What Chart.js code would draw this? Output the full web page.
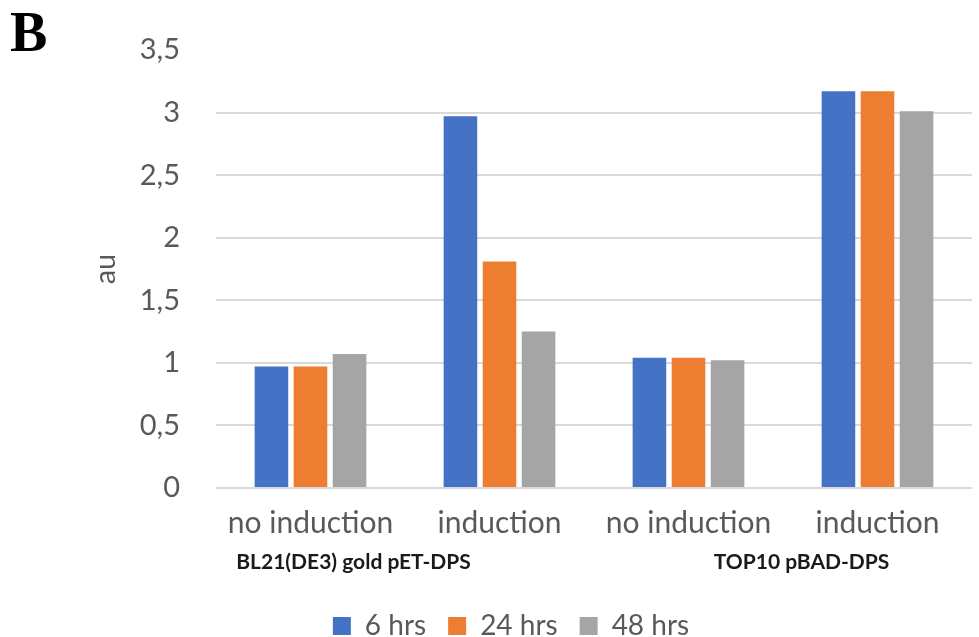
<!DOCTYPE html>
<html lang="en">
<head>
    <meta charset="UTF-8">
    <title>DPS expression</title>
    <script src="https://cdn.jsdelivr.net/npm/chart.js"></script>
    <style>
        body { margin: 0; background: #fff; }
        #wrap { width: 979px; height: 637px; }
    </style>
</head>
<body>
    <div id="wrap"><canvas id="chart" width="979" height="637"></canvas></div>

    <script>
        // data
        var categories = ['no induction', 'induction', 'no induction', 'induction'];
        var groupLabels = ['BL21(DE3) gold pET-DPS', 'TOP10 pBAD-DPS'];
        var seriesNames = ['6 hrs', '24 hrs', '48 hrs'];
        var hrs6 = [0.97, 2.97, 1.04, 3.17];
        var hrs24 = [0.97, 1.81, 1.04, 3.17];
        var hrs48 = [1.07, 1.25, 1.02, 3.01];
        var yTicks = [0, 0.5, 1, 1.5, 2, 2.5, 3, 3.5];

        var colors = ['#4472C4', '#ED7D31', '#A5A5A5'];
        var FONT = 'Lato, "Open Sans", sans-serif';

        // legend sits a bit right of the page centre in the original
        var legendShift = {
            id: 'legendShift',
            afterLayout: function (chart) {
                chart.legend.left += 25;
                chart.legend.right += 25;
            }
        };

        // extra texts: panel letter, y title, strain labels
        var extraText = {
            id: 'extraText',
            afterDraw: function (chart) {
                var c = chart.ctx;
                var xs = chart.scales.x;
                var area = chart.chartArea;
                c.save();
                c.fillStyle = '#000';
                c.font = 'bold 56px "Liberation Serif", serif';
                c.textAlign = 'left';
                c.textBaseline = 'alphabetic';
                c.fillText('B', 10, 51);

                c.fillStyle = '#1a1a1a';
                c.font = 'bold 21px ' + FONT;
                c.textAlign = 'center';
                c.fillText(groupLabels[0], xs.getPixelForValue(0) + 43, 569);
                c.fillText(groupLabels[1], xs.getPixelForValue(2) + 113, 569);

                c.fillStyle = '#595959';
                c.font = '29px ' + FONT;
                c.translate(106, (area.top + area.bottom) / 2);
                c.rotate(-Math.PI / 2);
                c.textBaseline = 'middle';
                c.fillText('au', 0, 0);
                c.restore();
            }
        };

        var ctx = document.getElementById('chart').getContext('2d');
        var chart = new Chart(ctx, {
            type: 'bar',
            data: {
                labels: categories,
                datasets: [hrs6, hrs24, hrs48].map(function (d, i) {
                    return {
                        label: seriesNames[i],
                        data: d,
                        backgroundColor: colors[i],
                        categoryPercentage: 0.62,
                        barPercentage: 0.86
                    };
                })
            },
            options: {
                responsive: false,
                animation: false,
                layout: { padding: { top: 50, right: 7, left: 0, bottom: -13 } },
                plugins: {
                    tooltip: { enabled: false },
                    legend: {
                        position: 'bottom',
                        labels: {
                            font: { family: FONT, size: 28 },
                            color: '#595959',
                            boxWidth: 18,
                            boxHeight: 18,
                            padding: 22
                        }
                    }
                },
                scales: {
                    x: {
                        grid: { display: false },
                        border: { display: false },
                        ticks: {
                            font: { family: FONT, size: 30 },
                            color: '#595959',
                            padding: 9,
                            maxRotation: 0
                        },
                        afterFit: function (s) { s.height = 102; }
                    },
                    y: {
                        min: 0,
                        max: 3.5,
                        afterBuildTicks: function (s) {
                            s.ticks = yTicks.map(function (v) { return { value: v }; });
                        },
                        grid: {
                            color: function (c) {
                                return c.tick && c.tick.value === 3.5 ? 'rgba(0,0,0,0)' : '#d9d9d9';
                            },
                            lineWidth: 2,
                            drawTicks: false
                        },
                        border: { display: false },
                        ticks: {
                            font: { family: FONT, size: 29 },
                            color: '#595959',
                            padding: 36,
                            callback: function (v) { return String(v).replace('.', ','); }
                        },
                        afterFit: function (s) {
                            s.width = 216;
                            s.paddingTop = 0;
                        }
                    }
                }
            },
            plugins: [legendShift, extraText]
        });
    </script>
</body>
</html>
